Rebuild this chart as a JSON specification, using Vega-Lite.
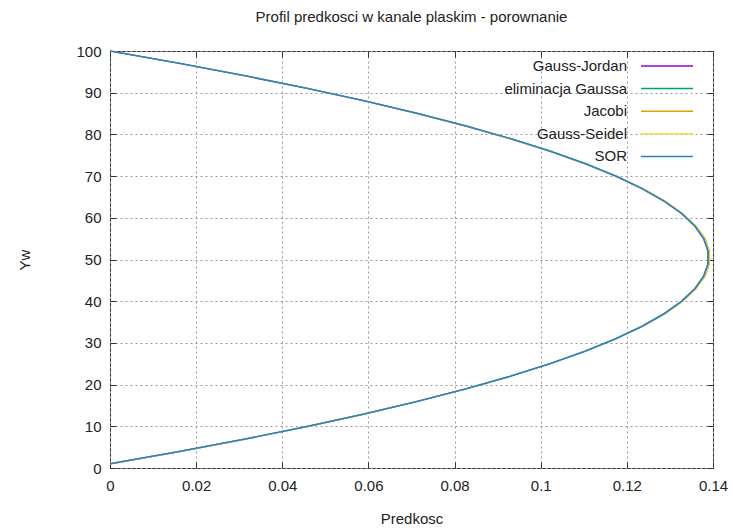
{
  "$schema": "https://vega.github.io/schema/vega-lite/v6.json",
  "autosize": {"type": "none"},
  "padding": {"left": 110, "top": 51, "right": 20, "bottom": 63},
  "width": 603,
  "height": 417,
  "background": "white",
  "config": {
    "font": "Liberation Sans",
    "view": {"stroke": "#333", "strokeWidth": 1},
    "axis": {
      "labelFont": "Liberation Sans",
      "labelFontSize": 15,
      "labelColor": "#222",
      "labelFlush": false,
      "titleFont": "Liberation Sans",
      "titleFontSize": 15,
      "titleFontWeight": "normal",
      "titleColor": "#222",
      "domain": false,
      "gridColor": "#999",
      "gridDash": [2, 3],
      "gridWidth": 1,
      "gridOpacity": 1,
      "tickColor": "#333",
      "tickSize": -6,
      "tickWidth": 1
    }
  },
  "title": {
    "text": "Profil predkosci w kanale plaskim - porownanie",
    "font": "Liberation Sans",
    "fontSize": 15,
    "fontWeight": "normal",
    "color": "#222",
    "anchor": "middle",
    "offset": 19
  },
  "data": {
    "values": [
      {"y": 1, "GJ": 0.0, "EG": 0.0, "J": 0.0, "GS": 0.0, "SOR": 0.0},
      {"y": 4, "GJ": 0.01634, "EG": 0.01634, "J": 0.01634, "GS": 0.01634, "SOR": 0.01634},
      {"y": 7, "GJ": 0.03166, "EG": 0.03166, "J": 0.03166, "GS": 0.03166, "SOR": 0.03166},
      {"y": 10, "GJ": 0.04595, "EG": 0.04595, "J": 0.04595, "GS": 0.04595, "SOR": 0.04595},
      {"y": 13, "GJ": 0.05923, "EG": 0.05923, "J": 0.05923, "GS": 0.05923, "SOR": 0.05923},
      {"y": 16, "GJ": 0.07148, "EG": 0.07148, "J": 0.07148, "GS": 0.07148, "SOR": 0.07148},
      {"y": 19, "GJ": 0.08271, "EG": 0.08271, "J": 0.08271, "GS": 0.08271, "SOR": 0.08271},
      {"y": 22, "GJ": 0.09292, "EG": 0.09292, "J": 0.09292, "GS": 0.09292, "SOR": 0.09292},
      {"y": 25, "GJ": 0.10211, "EG": 0.10211, "J": 0.10211, "GS": 0.10211, "SOR": 0.10211},
      {"y": 28, "GJ": 0.11028, "EG": 0.11028, "J": 0.11028, "GS": 0.11028, "SOR": 0.11028},
      {"y": 31, "GJ": 0.11743, "EG": 0.11743, "J": 0.11743, "GS": 0.11743, "SOR": 0.11743},
      {"y": 34, "GJ": 0.12356, "EG": 0.12356, "J": 0.1237, "GS": 0.1237, "SOR": 0.12356},
      {"y": 37, "GJ": 0.12866, "EG": 0.12866, "J": 0.1289, "GS": 0.1289, "SOR": 0.12866},
      {"y": 40, "GJ": 0.13275, "EG": 0.13275, "J": 0.1330, "GS": 0.1330, "SOR": 0.13275},
      {"y": 43, "GJ": 0.13581, "EG": 0.13581, "J": 0.1361, "GS": 0.1361, "SOR": 0.13581},
      {"y": 46, "GJ": 0.13785, "EG": 0.13785, "J": 0.1382, "GS": 0.1381, "SOR": 0.13785},
      {"y": 49, "GJ": 0.13887, "EG": 0.13887, "J": 0.1392, "GS": 0.1391, "SOR": 0.13887},
      {"y": 52, "GJ": 0.13887, "EG": 0.13887, "J": 0.1392, "GS": 0.1391, "SOR": 0.13887},
      {"y": 55, "GJ": 0.13785, "EG": 0.13785, "J": 0.1382, "GS": 0.1381, "SOR": 0.13785},
      {"y": 58, "GJ": 0.13581, "EG": 0.13581, "J": 0.1361, "GS": 0.1361, "SOR": 0.13581},
      {"y": 61, "GJ": 0.13275, "EG": 0.13275, "J": 0.1330, "GS": 0.1330, "SOR": 0.13275},
      {"y": 64, "GJ": 0.12866, "EG": 0.12866, "J": 0.1289, "GS": 0.1289, "SOR": 0.12866},
      {"y": 67, "GJ": 0.12356, "EG": 0.12356, "J": 0.1237, "GS": 0.1237, "SOR": 0.12356},
      {"y": 70, "GJ": 0.11743, "EG": 0.11743, "J": 0.11743, "GS": 0.11743, "SOR": 0.11743},
      {"y": 73, "GJ": 0.11028, "EG": 0.11028, "J": 0.11028, "GS": 0.11028, "SOR": 0.11028},
      {"y": 76, "GJ": 0.10211, "EG": 0.10211, "J": 0.10211, "GS": 0.10211, "SOR": 0.10211},
      {"y": 79, "GJ": 0.09292, "EG": 0.09292, "J": 0.09292, "GS": 0.09292, "SOR": 0.09292},
      {"y": 82, "GJ": 0.08271, "EG": 0.08271, "J": 0.08271, "GS": 0.08271, "SOR": 0.08271},
      {"y": 85, "GJ": 0.07148, "EG": 0.07148, "J": 0.07148, "GS": 0.07148, "SOR": 0.07148},
      {"y": 88, "GJ": 0.05923, "EG": 0.05923, "J": 0.05923, "GS": 0.05923, "SOR": 0.05923},
      {"y": 91, "GJ": 0.04595, "EG": 0.04595, "J": 0.04595, "GS": 0.04595, "SOR": 0.04595},
      {"y": 94, "GJ": 0.03166, "EG": 0.03166, "J": 0.03166, "GS": 0.03166, "SOR": 0.03166},
      {"y": 97, "GJ": 0.01634, "EG": 0.01634, "J": 0.01634, "GS": 0.01634, "SOR": 0.01634},
      {"y": 100, "GJ": 0.0, "EG": 0.0, "J": 0.0, "GS": 0.0, "SOR": 0.0}
    ]
  },
  "transform": [
    {"fold": ["GJ", "EG", "J", "GS", "SOR"], "as": ["key", "u"]},
    {"lookup": "key", "from": {"data": {"values": [
      {"key": "GJ", "method": "Gauss-Jordan"},
      {"key": "EG", "method": "eliminacja Gaussa"},
      {"key": "J", "method": "Jacobi"},
      {"key": "GS", "method": "Gauss-Seidel"},
      {"key": "SOR", "method": "SOR"}
    ]}, "key": "key", "fields": ["method"]}}
  ],
  "layer": [
    {
      "transform": [{"filter": "datum.key !== 'SOR'"}],
      "mark": {"type": "line", "strokeWidth": 1.2},
      "encoding": {
        "x": {
          "field": "u", "type": "quantitative",
          "scale": {"domain": [0, 0.14], "nice": false, "zero": false},
          "axis": {
            "title": "Predkosc",
            "values": [0, 0.02, 0.04, 0.06, 0.08, 0.1, 0.12, 0.14],
            "format": "~g",
            "labelPadding": 16,
            "titlePadding": 18,
            "grid": true
          }
        },
        "y": {
          "field": "y", "type": "quantitative",
          "scale": {"domain": [0, 100], "nice": false, "zero": false},
          "axis": {
            "title": "Yw",
            "values": [0, 10, 20, 30, 40, 50, 60, 70, 80, 90, 100],
            "labelPadding": 15,
            "titlePadding": 43,
            "grid": true
          }
        },
        "order": {"field": "y", "type": "quantitative"},
        "color": {
          "field": "method", "type": "nominal",
          "scale": {
            "domain": ["Gauss-Jordan", "eliminacja Gaussa", "Jacobi", "Gauss-Seidel", "SOR"],
            "range": ["#9400d3", "#009e73", "#e69f00", "#f0e442", "#2a82c4"]
          },
          "legend": {
            "title": null,
            "orient": "none",
            "legendX": 546,
            "legendY": 4,
            "symbolType": "M-2.6,0H2.6",
            "symbolSize": 400,
            "symbolStrokeWidth": 1.5,
            "symbolFillColor": "transparent",
            "labelAlign": "right",
            "labelOffset": -51,
            "labelFont": "Liberation Sans",
            "labelFontSize": 15,
            "labelColor": "#222",
            "labelLimit": 300,
            "rowPadding": 3.6
          }
        }
      }
    },
    {
      "transform": [{"filter": "datum.key === 'SOR'"}],
      "mark": {"type": "line", "strokeWidth": 1.6},
      "encoding": {
        "x": {"field": "u", "type": "quantitative", "axis": null},
        "y": {"field": "y", "type": "quantitative", "axis": null},
        "order": {"field": "y", "type": "quantitative"},
        "color": {"field": "method", "type": "nominal"}
      }
    },
    {
      "mark": {"type": "line", "opacity": 0},
      "encoding": {
        "x": {
          "field": "u", "type": "quantitative",
          "axis": {
            "orient": "top", "title": null, "labels": false, "grid": false,
            "values": [0, 0.02, 0.04, 0.06, 0.08, 0.1, 0.12, 0.14]
          }
        },
        "y": {
          "field": "y", "type": "quantitative",
          "axis": {
            "orient": "right", "title": null, "labels": false, "grid": false,
            "values": [0, 10, 20, 30, 40, 50, 60, 70, 80, 90, 100]
          }
        },
        "order": {"field": "y", "type": "quantitative"},
        "detail": {"field": "method", "type": "nominal"}
      }
    }
  ],
  "resolve": {"axis": {"x": "independent", "y": "independent"}}
}
